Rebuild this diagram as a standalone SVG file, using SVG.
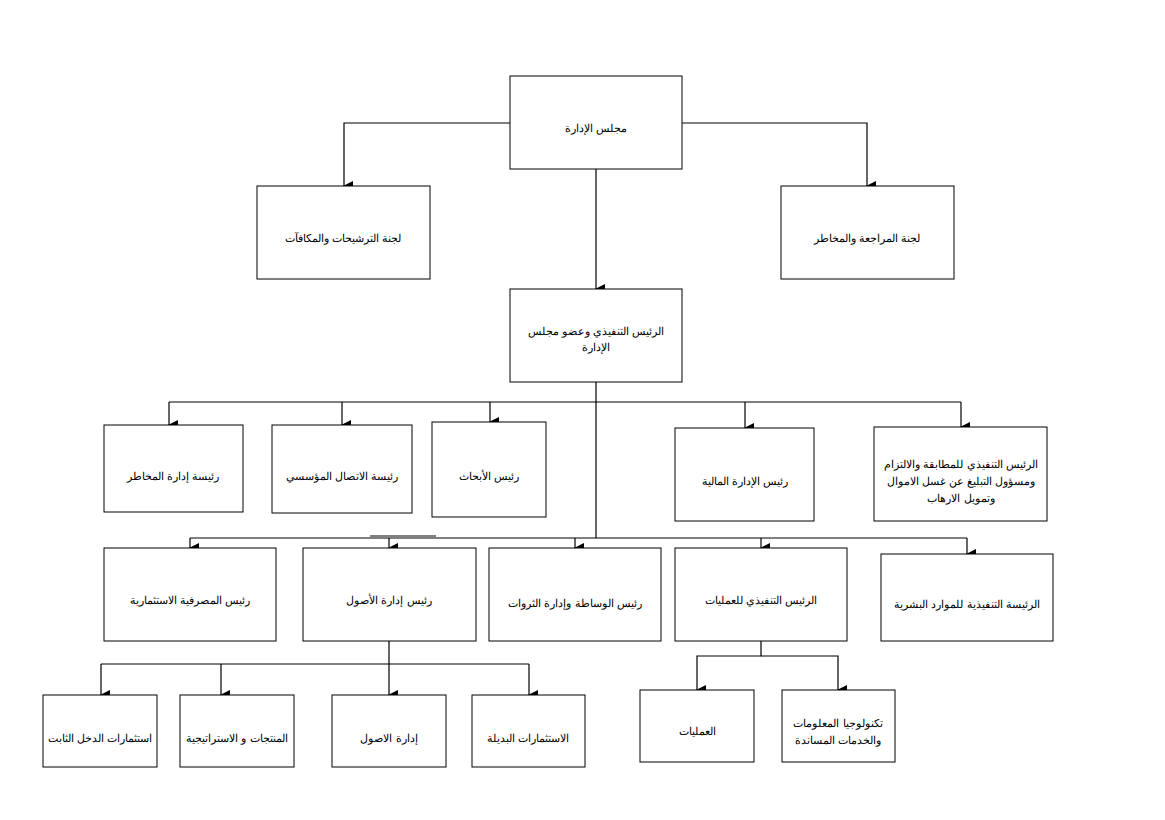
<svg xmlns="http://www.w3.org/2000/svg" width="1165" height="820" viewBox="0 0 1165 820">
<style>
rect{fill:#fff;stroke:#000;stroke-width:1}
text{font-family:"Liberation Sans",Arial,"Noto Sans",sans-serif;font-size:11px;text-anchor:middle;fill:#000}
#c path{fill:none;stroke:#000;stroke-width:1.2}
</style>
<defs><marker id="a" markerWidth="10" markerHeight="10" refX="5" refY="9" orient="auto" markerUnits="userSpaceOnUse" viewBox="0 0 10 10"><path d="M0,0L10,0L5,10Z" fill="#000"/></marker></defs>
<rect width="1165" height="820" style="stroke:none"/>
<g id="c">
<path d="M510,123H344V186" marker-end="url(#a)"/>
<path d="M682,123H867V186" marker-end="url(#a)"/>
<path d="M596,169V289" marker-end="url(#a)"/>
<path d="M596,382V538"/>
<path d="M169,402H961"/>
<path d="M169,402V425" marker-end="url(#a)"/>
<path d="M342,402V425" marker-end="url(#a)"/>
<path d="M490,402V422" marker-end="url(#a)"/>
<path d="M745,402V428" marker-end="url(#a)"/>
<path d="M961,402V427" marker-end="url(#a)"/>
<path d="M190,538H967"/>
<path d="M370,536H436"/>
<path d="M190,538V548" marker-end="url(#a)"/>
<path d="M389,538V548" marker-end="url(#a)"/>
<path d="M575,538V548" marker-end="url(#a)"/>
<path d="M761,538V548" marker-end="url(#a)"/>
<path d="M967,538V554" marker-end="url(#a)"/>
<path d="M389,641V664"/>
<path d="M101,664H529"/>
<path d="M101,664V695" marker-end="url(#a)"/>
<path d="M221,664V695" marker-end="url(#a)"/>
<path d="M389,664V695" marker-end="url(#a)"/>
<path d="M529,664V695" marker-end="url(#a)"/>
<path d="M761,641V656H697V690" marker-end="url(#a)"/>
<path d="M761,656H838V690" marker-end="url(#a)"/>
</g>
<g id="board"><rect x="510" y="76" width="172" height="93"/><text x="596" y="132">مجلس الإدارة</text></g>
<g id="nom"><rect x="257" y="186" width="173" height="93"/><text x="343" y="242">لجنة الترشيحات والمكافآت</text></g>
<g id="audit"><rect x="781" y="186" width="173" height="93"/><text x="867" y="242">لجنة المراجعة والمخاطر</text></g>
<g id="ceo"><rect x="510" y="289" width="172" height="93"/><text x="596" y="335">الرئيس التنفيذي وعضو مجلس</text><text x="596" y="351">الإدارة</text></g>
<g id="risk"><rect x="104" y="425" width="139" height="87"/><text x="173" y="480">رئيسة إدارة المخاطر</text></g>
<g id="comm"><rect x="272" y="425" width="140" height="88"/><text x="342" y="480">رئيسة الاتصال المؤسسي</text></g>
<g id="research"><rect x="432" y="422" width="114" height="95"/><text x="489" y="480">رئيس الأبحاث</text></g>
<g id="finance"><rect x="675" y="428" width="139" height="93"/><text x="745" y="485">رئيس الإدارة المالية</text></g>
<g id="compliance"><rect x="874" y="427" width="173" height="94"/><text x="961" y="468">الرئيس التنفيذي للمطابقة والالتزام</text><text x="961" y="485">ومسؤول التبليغ عن غسل الاموال</text><text x="961" y="502">وتمويل الارهاب</text></g>
<g id="ib"><rect x="104" y="548" width="172" height="93"/><text x="190" y="604">رئيس المصرفية الاستثمارية</text></g>
<g id="am"><rect x="303" y="548" width="173" height="93"/><text x="389" y="604">رئيس إدارة الأصول</text></g>
<g id="wealth"><rect x="489" y="548" width="172" height="93"/><text x="575" y="607">رئيس الوساطة وإدارة الثروات</text></g>
<g id="coo"><rect x="675" y="548" width="172" height="93"/><text x="761" y="604">الرئيس التنفيذي للعمليات</text></g>
<g id="hr"><rect x="881" y="554" width="172" height="87"/><text x="967" y="608">الرئيسة التنفيذية للموارد البشرية</text></g>
<g id="fi"><rect x="43" y="695" width="114" height="72"/><text x="100" y="742">استثمارات الدخل الثابت</text></g>
<g id="prod"><rect x="180" y="695" width="114" height="72"/><text x="237" y="742">المنتجات و الاستراتيجية</text></g>
<g id="amg"><rect x="332" y="695" width="114" height="72"/><text x="389" y="742">إدارة الاصول</text></g>
<g id="alt"><rect x="472" y="695" width="113" height="72"/><text x="528" y="742">الاستثمارات البديلة</text></g>
<g id="ops"><rect x="640" y="690" width="114" height="72"/><text x="697" y="735">العمليات</text></g>
<g id="it"><rect x="782" y="690" width="113" height="72"/><text x="838" y="727">تكنولوجيا المعلومات</text><text x="838" y="744">والخدمات المساندة</text></g>
</svg>
